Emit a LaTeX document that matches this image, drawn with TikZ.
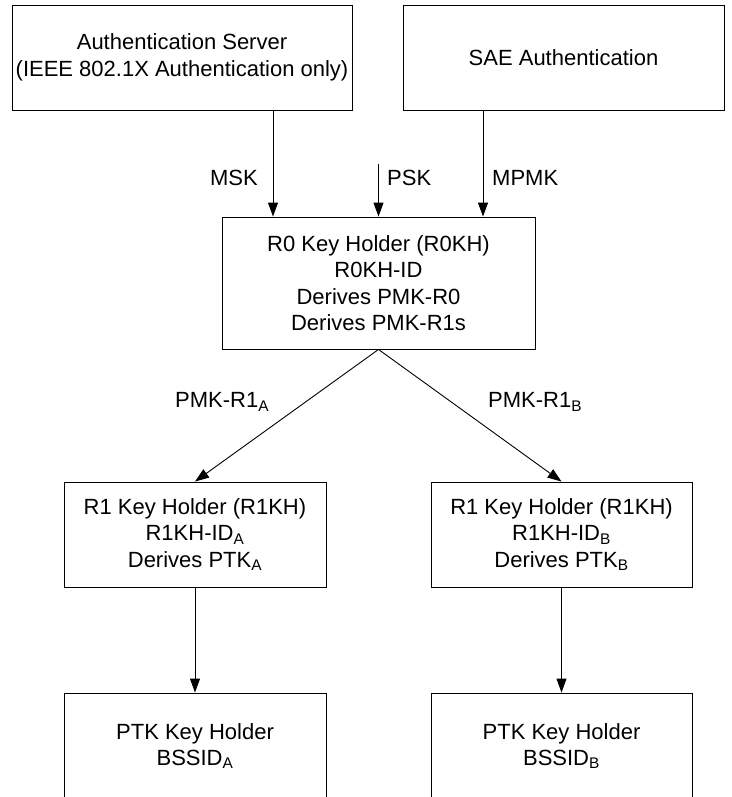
\documentclass[tikz,border=0pt]{standalone}
\usepackage{fontspec}
\setmainfont{Liberation Sans}
\usetikzlibrary{arrows.meta}
\begin{document}
\begin{tikzpicture}[x=1pt, y=-1pt,
  txt/.style={font=\fontsize{22}{26.5}\selectfont, inner sep=0pt},
  box/.style={txt, draw, line width=0.9pt, align=center, minimum height=105},
  arr/.style={-{Triangle[length=14pt, width=10pt]}, line width=0.9pt}]
\useasboundingbox (0, 0) rectangle (731, 797);
\clip (0, 0) rectangle (731, 797);
% sorgenti
\node[box, minimum width=340] (as) at (182, 57.5) {Authentication Server\\(IEEE 802.1X Authentication only)};
\node[box, minimum width=321] (sae) at (563.5, 57.5) {SAE Authentication};
% R0KH
\node[box, minimum width=313, minimum height=132] (r0) at (378.5, 283) {R0 Key Holder (R0KH)\\R0KH-ID\\Derives PMK-R0\\Derives PMK-R1s};
\coordinate (psk) at (378.5, 164);
\draw[arr] (273, 0 |- as.south) -- (273, 0 |- r0.north);
\draw[arr] (psk) -- (r0.north);
\draw[arr] (483, 0 |- sae.south) -- (483, 0 |- r0.north);
\node[txt, anchor=east] (msk) at (258, 178) {MSK};
\node[txt, anchor=west] (psklbl) at (387, 178) {PSK};
\node[txt, anchor=west] (mpmk) at (492, 178) {MPMK};
% R1KH
\node[box, minimum width=262] (r1a) at (195, 534.5) {R1 Key Holder (R1KH)\\R1KH-ID\textsubscript{A}\\Derives PTK\textsubscript{A}};
\node[box, minimum width=261] (r1b) at (561.5, 534.5) {R1 Key Holder (R1KH)\\R1KH-ID\textsubscript{B}\\Derives PTK\textsubscript{B}};
\draw[arr] (r0.south) -- (r1a.north);
\draw[arr] (r0.south) -- (r1b.north);
\node[txt, anchor=west] (pmka) at (175, 402) {PMK-R1\textsubscript{A}};
\node[txt, anchor=west] (pmkb) at (488, 402) {PMK-R1\textsubscript{B}};
% PTKH
\node[box, minimum width=262, minimum height=106] (ptka) at (195, 746) {PTK Key Holder\\BSSID\textsubscript{A}};
\node[box, minimum width=261, minimum height=106] (ptkb) at (561.5, 746) {PTK Key Holder\\BSSID\textsubscript{B}};
\draw[arr] (r1a.south) -- (ptka.north);
\draw[arr] (r1b.south) -- (ptkb.north);
\end{tikzpicture}
\end{document}
